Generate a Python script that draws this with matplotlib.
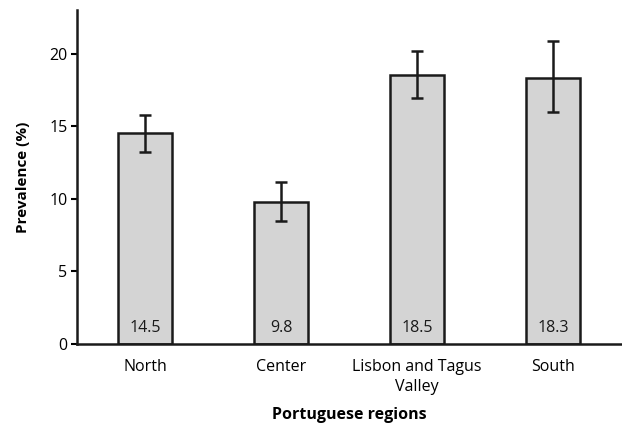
import matplotlib
matplotlib.use("Agg")
import matplotlib.pyplot as plt
import numpy as np

categories = ["North", "Center", "Lisbon and Tagus\nValley", "South"]
values = [14.5, 9.8, 18.5, 18.3]
err_low = [13.2, 8.45, 16.95, 15.95]
err_high = [15.8, 11.15, 20.2, 20.85]
yticks = [0, 5, 10, 15, 20]

plt.rcParams['font.family'] = ['Open Sans', 'DejaVu Sans']

fig = plt.figure(figsize=(6.22, 4.26), dpi=100)
ax = fig.add_axes([0.124, 0.1925, 0.874, 0.784])

x = np.arange(len(categories))
vals = np.array(values)
yerr = np.array([vals - np.array(err_low), np.array(err_high) - vals])
ax.bar(x, vals, width=0.4, color="#d4d4d4", edgecolor="#1a1a1a", linewidth=1.8,
       yerr=yerr, capsize=4, error_kw=dict(elinewidth=1.8, capthick=1.8, ecolor="#1a1a1a"))

for xi, v in zip(x, values):
    ax.text(xi, 1.1, f"{v}", ha="center", va="center", fontsize=11.5, color="#1a1a1a")

ax.set_xlim(-0.5, 3.5)
ax.set_ylim(0, 23)
ax.set_yticks(yticks)
ax.set_xticks(x)
ax.set_xticklabels(categories, fontsize=11.5, linespacing=1.35)
ax.tick_params(axis='y', labelsize=11.5, width=1.5, length=4, direction='out', pad=3)
ax.tick_params(axis='x', length=0, pad=11)
for s in ["top", "right"]:
    ax.spines[s].set_visible(False)
for s in ["left", "bottom"]:
    ax.spines[s].set_linewidth(1.8)
    ax.spines[s].set_color("#1a1a1a")

ax.set_ylabel("Prevalence (%)", fontsize=11, fontweight="bold", labelpad=14)
ax.set_xlabel("Portuguese regions", fontsize=11.5, fontweight="bold", labelpad=8)

fig.savefig("out.png", dpi=100)
